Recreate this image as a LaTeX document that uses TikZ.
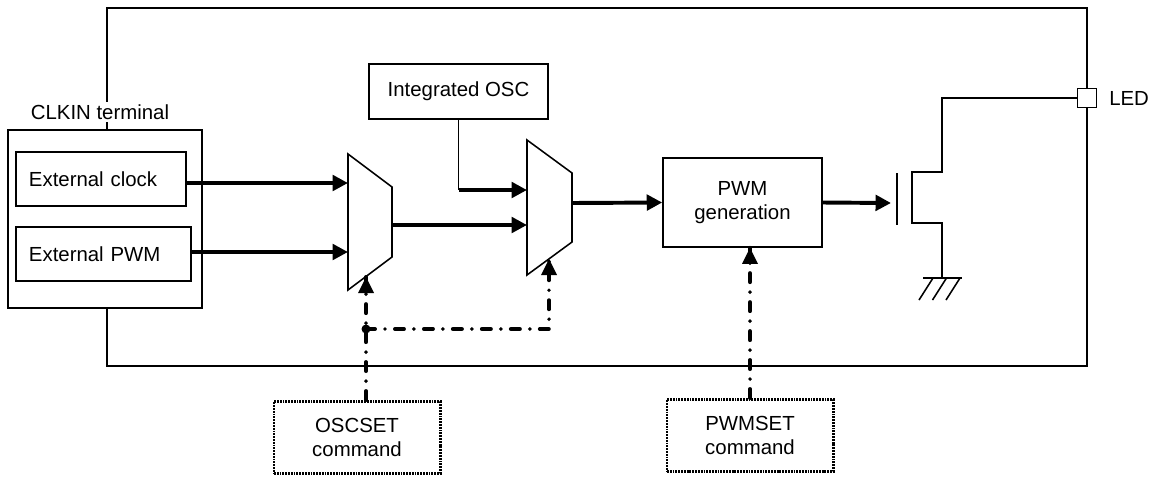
\documentclass[tikz,border=0pt]{standalone}
\usepackage{fontspec}
\setmainfont{Liberation Sans}
\usetikzlibrary{arrows.meta}
\begin{document}
\begin{tikzpicture}[x=0.025cm,y=-0.025cm,font=\fontsize{14.5}{17.5}\selectfont]
\tikzstyle{every node}+=[inner sep=0pt]
\tikzstyle{wire}=[line width=1.1pt]
\tikzstyle{blk}=[draw,line width=1.1pt,fill=white,align=center]
\tikzstyle{bus}=[line width=2.8pt,-{Triangle[length=11pt,width=11pt]}]
\tikzstyle{ctrl}=[line width=2.8pt,line cap=round,dash pattern=on 6.4pt off 7.1pt on 0pt off 7.1pt]
\tikzstyle{cmdbox}=[draw,line width=2.1pt,dash pattern=on 1.3pt off 0.7pt,fill=white,align=center,minimum width=4.15cm,minimum height=1.8cm]
\useasboundingbox (0,0) rectangle (1169,476);
\draw [wire] (107,8) rectangle (1087,366);
\node [blk,minimum width=4.85cm,minimum height=4.45cm] (clkin) at (105,219) {};
\node [fill=white,inner sep=2pt] (clkinlbl) at (100,112) {CLKIN terminal};
\node [blk,align=left,text width=3.6cm,inner xsep=0.325cm,minimum height=1.35cm] (extclk) at (101,179) {External clock};
\node [blk,align=left,text width=3.725cm,inner xsep=0.325cm,minimum height=1.35cm] (extpwm) at (103.5,254) {External PWM};
\node [blk,minimum width=4.475cm,minimum height=1.375cm] (osc) at (458.5,91.5) {Integrated OSC};
\node [blk,minimum width=3.975cm,minimum height=2.225cm] (pwm) at (742.5,202.5) {PWM\\generation};
\node [cmdbox] (oscset) at (357,437.5) {OSCSET\\command};
\node [cmdbox] (pwmset) at (750,435.5) {PWMSET\\command};
\node [draw,wire,fill=white,minimum size=0.475cm] (led) at (1087,98) {};
\node [anchor=west] (ledlbl) at (1109,98) {LED};
\draw [wire] (348,154) -- (392,187) -- (392,257) -- (348,290) -- cycle;
\draw [wire] (527,140) -- (572,173) -- (572,242) -- (527,275) -- cycle;
\coordinate (m1a) at (348,183);
\coordinate (m1b) at (348,252);
\coordinate (m1o) at (392,225);
\coordinate (m1s) at (366,277);
\coordinate (m2a) at (527,190);
\coordinate (m2b) at (527,225);
\coordinate (m2o) at (572,203);
\coordinate (m2s) at (549,259);
\coordinate (jn) at (366,329);
\coordinate (gate) at (891,203);
\draw [bus] (extclk.east |- m1a) -- (m1a);
\draw [bus] (extpwm.east |- m1b) -- (m1b);
\draw [bus] (m1o) -- (m1o -| m2b);
\draw [wire] (osc.south) -- (osc.south |- m2a);
\draw [bus] (osc.south |- m2a) -- (m2a);
\draw [bus] (m2o) -- (pwm.west);
\draw [bus] (pwm.east) -- (gate);
\draw [wire] (897,173) -- (897,225);
\draw [wire] (942,278) -- (942,223) -- (912,223) -- (912,172) -- (942,172) -- (942,98) -- (led.west);
\draw [wire] (923,278) -- (962,278);
\foreach \g in {0,13.5,27}
  \draw [wire] (933+\g,278) -- (919+\g,300);
\draw [ctrl] (oscset.north -| jn) -- (m1s);
\draw [ctrl] (jn) -- (jn -| m2s) -- (m2s);
\fill (jn) circle (4.5);
\draw [ctrl] (pwmset.north) -- (pwmset.north |- pwm.south);
\fill (m1s) -- ++(-8,16) -- ++(16,0) -- cycle;
\fill (m2s) -- ++(-8,16) -- ++(16,0) -- cycle;
\fill (pwmset.north |- pwm.south) -- ++(-8,16) -- ++(16,0) -- cycle;
\end{tikzpicture}
\end{document}
